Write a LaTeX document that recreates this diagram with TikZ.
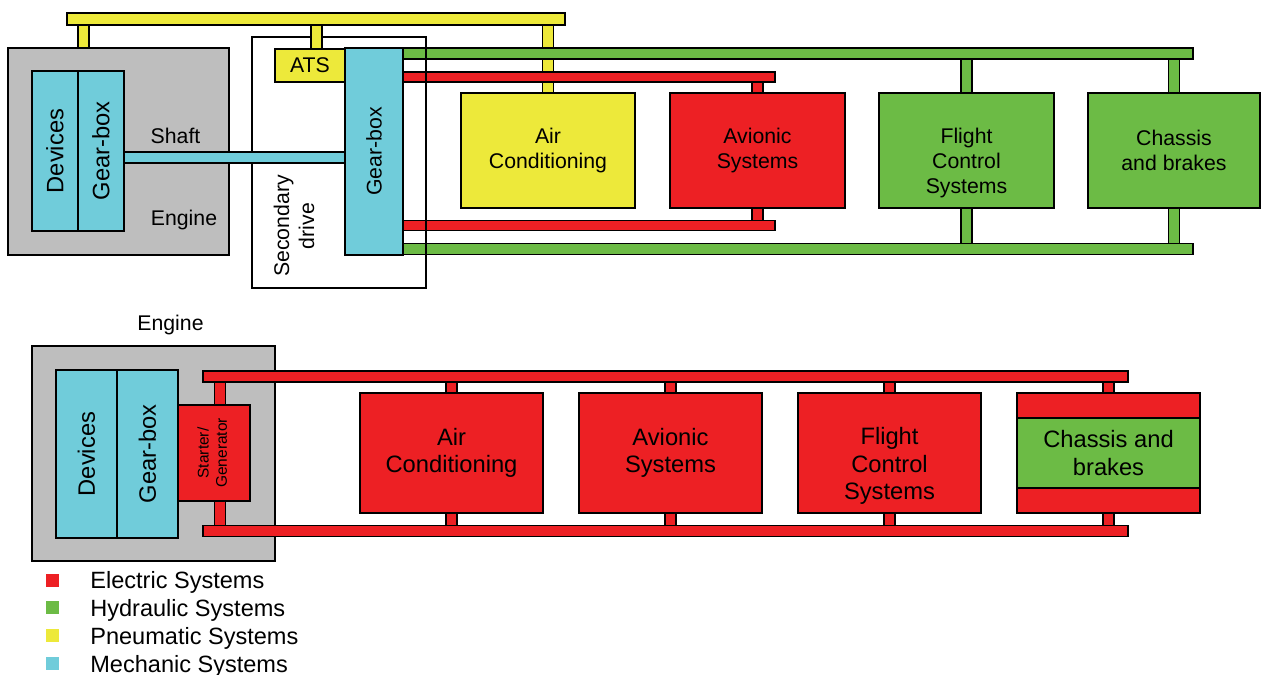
\documentclass[tikz,border=0pt]{standalone}
\usepackage{fontspec}
\setmainfont{Liberation Sans}
\usepackage{graphicx}
\usetikzlibrary{backgrounds}
\definecolor{elecred}{RGB}{237,32,36}
\definecolor{hydrgreen}{RGB}{108,187,69}
\definecolor{pneuyellow}{RGB}{237,233,58}
\definecolor{mechcyan}{RGB}{112,204,218}
\definecolor{enginegray}{RGB}{190,190,190}
\newlength{\px}\setlength{\px}{0.02cm}
\newcommand{\fmid}{\fontsize{12.1pt}{14.2pt}\selectfont}
\newcommand{\fbig}{\fontsize{13.5pt}{15.6pt}\selectfont}
\newcommand{\fsmall}{\fontsize{8.8pt}{10.4pt}\selectfont}
\newcommand{\flegend}{\fontsize{13.4pt}{15.6pt}\selectfont}
\tikzset{
  box/.style={draw, line width=0.8pt, inner sep=0pt, align=center},
  bar/.style={draw, line width=0.8pt, inner sep=0pt, fill=#1},
  stub/.style={draw=black, line width=0.8pt, double=#1, double distance=9.5\px},
  lbl/.style={inner sep=0pt, align=center},
  legendkey/.style={fill=#1, minimum size=13\px, inner sep=0pt},
}

\begin{document}
\begin{tikzpicture}[x=0.02cm, y=-0.02cm]
    \useasboundingbox (0,0) rectangle (1261,675);

    % Top: engine, shaft and secondary drive
    \node[box, fill=enginegray, minimum width=221\px, minimum height=207\px] (eng1) at (118.5,151.5) {};
    \node[box, fill=mechcyan, minimum width=46\px, minimum height=160\px, font=\fbig] (dev1) at (55,151) {\rotatebox{90}{Devices}};
    \node[box, fill=mechcyan, minimum width=46\px, minimum height=160\px, font=\fbig] (gbx1) at (101,151) {\rotatebox{90}{Gear-box}};
    \node[lbl, font=\fmid, anchor=base] (shaftlbl) at (175.5,144) {Shaft};
    \node[lbl, font=\fmid, anchor=base] (eng1lbl) at (184,226) {Engine};

    % Top: buses
    \node[bar=hydrgreen, minimum width=790\px, minimum height=11\px] (gtop) at (798,53.5) {};
    \node[bar=hydrgreen, minimum width=790\px, minimum height=11\px] (gbot) at (798,249) {};
    \node[bar=elecred, minimum width=372\px, minimum height=10\px] (rtop) at (589,77) {};
    \node[bar=elecred, minimum width=372\px, minimum height=10\px] (rbot) at (589,225.5) {};
    \node[bar=pneuyellow, minimum width=498\px, minimum height=12\px] (ytop) at (316,19) {};

    % Secondary drive frame
    \node[draw, line width=0.6pt, minimum width=174\px, minimum height=251\px, inner sep=0pt] (secdrive) at (339,162.5) {};
    \node[lbl, rotate=90, font=\fmid] (secdrivelbl) at (294,226) {Secondary\\drive};
    \node[box, fill=pneuyellow, minimum width=70\px, minimum height=33\px, font=\fmid] (ats) at (310,65.5) {ATS};
    \node[box, fill=mechcyan, minimum width=58\px, minimum height=207\px, font=\fmid] (gbx2) at (374,151.5) {\rotatebox{90}{Gear-box}};

    % Top: consumers
    \node[box, fill=pneuyellow, minimum width=174\px, minimum height=115\px, font=\fmid] (ac1) at (548,150.5) {Air\\Conditioning};
    \node[box, fill=elecred, minimum width=175\px, minimum height=115\px, font=\fmid] (av1) at (757.5,150.5) {Avionic\\Systems};
    \node[box, fill=hydrgreen, minimum width=175\px, minimum height=115\px] (fc1) at (966.5,150.5) {};
    \node[lbl, font=\fmid] (fc1lbl) at (966.5,163) {Flight\\Control\\Systems};
    \node[box, fill=hydrgreen, minimum width=172\px, minimum height=115\px, font=\fmid] (ch1) at (1174,150.5) {Chassis\\and brakes};

    % Top: stubs
    \begin{scope}[on background layer]
        \draw[stub=pneuyellow] (ac1.north) -- (ac1.north |- ytop.south);
    \end{scope}
    \draw[stub=pneuyellow] (83.5,0 |- ytop.south) -- (83.5,0 |- eng1.north);
    \draw[stub=pneuyellow] (316.5,0 |- ytop.south) -- (316.5,0 |- ats.north);
    \draw[stub=elecred] (av1.north) -- (av1.north |- rtop.south);
    \draw[stub=elecred] (av1.south) -- (av1.south |- rbot.north);
    \draw[stub=hydrgreen] (fc1.north) -- (fc1.north |- gtop.south);
    \draw[stub=hydrgreen] (fc1.south) -- (fc1.south |- gbot.north);
    \draw[stub=hydrgreen] (ch1.north) -- (ch1.north |- gtop.south);
    \draw[stub=hydrgreen] (ch1.south) -- (ch1.south |- gbot.north);
    \draw[stub=mechcyan] (gbx1.east |- 0,157.5) -- (gbx2.west |- 0,157.5);

    % Bottom: engine with starter/generator
    \node[lbl, font=\fmid, anchor=base] (eng2lbl) at (170.5,331) {Engine};
    \node[box, fill=enginegray, minimum width=243\px, minimum height=215\px] (eng2) at (153.5,453.5) {};
    \node[box, fill=mechcyan, minimum width=61\px, minimum height=168\px, font=\fbig] (dev2) at (86.5,454) {\rotatebox{90}{Devices}};
    \node[box, fill=mechcyan, minimum width=61\px, minimum height=168\px, font=\fbig] (gbx3) at (147.5,454) {\rotatebox{90}{Gear-box}};
    \node[box, fill=elecred, minimum width=72\px, minimum height=96\px, font=\fsmall] (sg) at (214,453) {\rotatebox{90}{\begin{tabular}{@{}c@{}}Starter/\\Generator\end{tabular}}};

    % Bottom: electric buses
    \node[bar=elecred, minimum width=925\px, minimum height=11\px] (rtopb) at (665.5,376.5) {};
    \node[bar=elecred, minimum width=925\px, minimum height=11\px] (rbotb) at (665.5,531) {};

    % Bottom: consumers
    \node[box, fill=elecred, minimum width=183\px, minimum height=120\px, font=\fbig] (ac2) at (451.5,453) {Air\\Conditioning};
    \node[box, fill=elecred, minimum width=183\px, minimum height=120\px, font=\fbig] (av2) at (670.5,453) {Avionic\\Systems};
    \node[box, fill=elecred, minimum width=183\px, minimum height=120\px] (fc2) at (889.5,453) {};
    \node[lbl, font=\fbig] (fc2lbl) at (889.5,466) {Flight\\Control\\Systems};
    \node[box, fill=elecred, minimum width=183\px, minimum height=120\px] (ch2) at (1108.5,453) {};
    \node[box, fill=hydrgreen, minimum width=183\px, minimum height=70\px, font=\fbig] (ch2mid) at (1108.5,453) {Chassis and\\brakes};

    % Bottom: stubs
    \draw[stub=elecred] (220,0 |- sg.north) -- (220,0 |- rtopb.south);
    \draw[stub=elecred] (220,0 |- sg.south) -- (220,0 |- rbotb.north);
    \foreach \b in {ac2, av2, fc2, ch2} {
        \draw[stub=elecred] (\b.north) -- (\b.north |- rtopb.south);
        \draw[stub=elecred] (\b.south) -- (\b.south |- rbotb.north);
    }

    % Legend
    \foreach \c/\t [count=\i from 0] in {elecred/Electric Systems, hydrgreen/Hydraulic Systems, pneuyellow/Pneumatic Systems, mechcyan/Mechanic Systems} {
        \node[legendkey=\c] (key\i) at (52.5,{580+27.8*\i}) {};
        \node[lbl, font=\flegend, anchor=base west] (keylbl\i) at (90,{588+28*\i}) {\t};
    }
\end{tikzpicture}
\end{document}
